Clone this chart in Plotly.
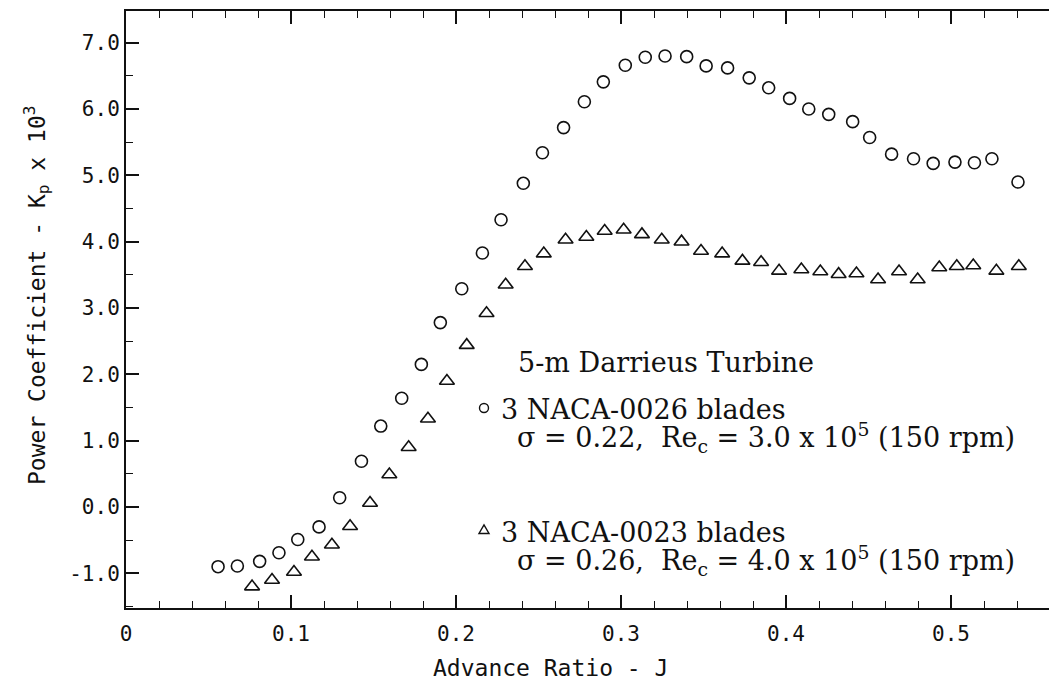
import plotly.graph_objects as go

# NACA-0026 blades (circles)
J_0026 = [0.0558, 0.0675, 0.0810, 0.0927, 0.1041, 0.1170, 0.1295, 0.1427, 0.1544, 0.1671,
          0.1790, 0.1905, 0.2035, 0.2160, 0.2273, 0.2408, 0.2524, 0.2652, 0.2778, 0.2893,
          0.3026, 0.3147, 0.3267, 0.3398, 0.3516, 0.3646, 0.3777, 0.3895, 0.4022, 0.4138,
          0.4259, 0.4404, 0.4507, 0.4640, 0.4773, 0.4892, 0.5024, 0.5142, 0.5248, 0.5406]
Kp_0026 = [-0.90, -0.89, -0.82, -0.69, -0.49, -0.30, 0.14, 0.69, 1.22, 1.64,
           2.15, 2.78, 3.29, 3.83, 4.33, 4.88, 5.34, 5.72, 6.11, 6.41,
           6.66, 6.78, 6.80, 6.79, 6.65, 6.62, 6.47, 6.32, 6.16, 6.00,
           5.92, 5.81, 5.57, 5.32, 5.25, 5.18, 5.20, 5.19, 5.25, 4.90]

# NACA-0023 blades (triangles)
J_0023 = [0.0764, 0.0885, 0.1018, 0.1127, 0.1248, 0.1358, 0.1479, 0.1596, 0.1713, 0.1830,
          0.1945, 0.2065, 0.2185, 0.2301, 0.2418, 0.2532, 0.2664, 0.2790, 0.2901, 0.3016,
          0.3127, 0.3247, 0.3367, 0.3485, 0.3613, 0.3736, 0.3849, 0.3958, 0.4093, 0.4208,
          0.4319, 0.4427, 0.4558, 0.4685, 0.4798, 0.4929, 0.5035, 0.5135, 0.5275, 0.5411]
Kp_0023 = [-1.20, -1.10, -0.98, -0.75, -0.57, -0.29, 0.06, 0.49, 0.90, 1.33,
           1.90, 2.44, 2.92, 3.35, 3.63, 3.82, 4.03, 4.07, 4.16, 4.18,
           4.11, 4.03, 4.00, 3.86, 3.82, 3.71, 3.69, 3.56, 3.58, 3.55,
           3.51, 3.52, 3.43, 3.55, 3.43, 3.61, 3.63, 3.64, 3.56, 3.63]

x_tickvals = [0, 0.1, 0.2, 0.3, 0.4, 0.5]
x_ticktext = ["0", "0.1", "0.2", "0.3", "0.4", "0.5"]
y_tickvals = [-1, 0, 1, 2, 3, 4, 5, 6, 7]
y_ticktext = ["-1.0", "0.0", "1.0", "2.0", "3.0", "4.0", "5.0", "6.0", "7.0"]

title_text = "5-m Darrieus Turbine"
series1_name = "3 NACA-0026 blades"
series1_info = "σ = 0.22,  Re<sub>c</sub> = 3.0 x 10<sup>5</sup> (150 rpm)"
series2_name = "3 NACA-0023 blades"
series2_info = "σ = 0.26,  Re<sub>c</sub> = 4.0 x 10<sup>5</sup> (150 rpm)"

MONO = "DejaVu Sans Mono"
SERIF = "DejaVu Serif"
BLACK = "#111111"

fig = go.Figure()
fig.add_trace(go.Scatter(
    x=J_0026, y=Kp_0026, mode="markers", name=series1_name, showlegend=False,
    marker=dict(symbol="circle-open", size=12, color=BLACK, line=dict(width=1.6, color=BLACK)),
))
fig.add_trace(go.Scatter(
    x=J_0023, y=Kp_0023, mode="markers", name=series2_name, showlegend=False,
    marker=dict(symbol="triangle-up-open", size=13, color=BLACK, line=dict(width=1.6, color=BLACK)),
))

L, R, T, B = 126, 0, 11, 78
W, H = 1049, 686
pw, ph = W - L - R, H - T - B

def px(xp):
    return (xp - L) / pw

def py(yp):
    return (T + ph - yp) / ph

TXT = 27
annotations = [
    dict(text="Advance Ratio - J", x=px(550), y=py(668), xref="paper", yref="paper",
         xanchor="center", yanchor="middle", showarrow=False,
         font=dict(family=MONO, size=23, color=BLACK)),
    dict(text="Power Coefficient - K<sub>p</sub> x 10<sup>3</sup>", x=px(36), y=py(296),
         xref="paper", yref="paper", xanchor="center", yanchor="middle", showarrow=False,
         textangle=-90, font=dict(family=MONO, size=23, color=BLACK)),
    dict(text=title_text, x=px(516), y=py(362), xref="paper", yref="paper",
         xanchor="left", yanchor="middle", showarrow=False,
         font=dict(family=SERIF, size=TXT, color=BLACK)),
    dict(text=series1_name, x=px(499), y=py(409), xref="paper", yref="paper",
         xanchor="left", yanchor="middle", showarrow=False,
         font=dict(family=SERIF, size=TXT, color=BLACK)),
    dict(text=series1_info, x=px(515), y=py(437), xref="paper", yref="paper",
         xanchor="left", yanchor="middle", showarrow=False,
         font=dict(family=SERIF, size=TXT, color=BLACK)),
    dict(text=series2_name, x=px(499), y=py(532), xref="paper", yref="paper",
         xanchor="left", yanchor="middle", showarrow=False,
         font=dict(family=SERIF, size=TXT, color=BLACK)),
    dict(text=series2_info, x=px(515), y=py(560), xref="paper", yref="paper",
         xanchor="left", yanchor="middle", showarrow=False,
         font=dict(family=SERIF, size=TXT, color=BLACK)),
]

# small legend key symbols (pixel-sized shapes next to the series labels)
shapes = [
    dict(type="circle", xref="paper", yref="paper", xsizemode="pixel", ysizemode="pixel",
         xanchor=px(484), yanchor=py(408), x0=-4.5, x1=4.5, y0=-4.5, y1=4.5,
         line=dict(color=BLACK, width=1.4)),
    dict(type="path", xref="paper", yref="paper", xsizemode="pixel", ysizemode="pixel",
         xanchor=px(484), yanchor=py(530), path="M -5,-3.5 L 5,-3.5 L 0,5 Z",
         line=dict(color=BLACK, width=1.4)),
]

fig.update_layout(
    width=W, height=H,
    margin=dict(l=L, r=R, t=T, b=B, pad=0),
    paper_bgcolor="white", plot_bgcolor="white",
    showlegend=False,
    xaxis=dict(
        range=[0, (W - L) / 1650.0], tickvals=x_tickvals, ticktext=x_ticktext,
        ticks="inside", ticklen=13, tickwidth=1.6, tickcolor=BLACK,
        showline=True, linewidth=2, linecolor=BLACK, mirror="ticks",
        showgrid=False, zeroline=False, ticklabelstandoff=6,
        tickfont=dict(family=MONO, size=21, color=BLACK),
        minor=dict(tick0=0, dtick=0.02, ticks="inside", ticklen=7, tickwidth=1.4,
                   tickcolor=BLACK, showgrid=False),
    ),
    yaxis=dict(
        range=[-1.523, 7.478], tickvals=y_tickvals, ticktext=y_ticktext,
        ticks="inside", ticklen=13, tickwidth=1.6, tickcolor=BLACK,
        showline=True, linewidth=2, linecolor=BLACK,
        showgrid=False, zeroline=False, ticklabelstandoff=0,
        tickfont=dict(family=MONO, size=21, color=BLACK),
        minor=dict(tick0=0, dtick=0.5, ticks="inside", ticklen=7, tickwidth=1.4,
                   tickcolor=BLACK, showgrid=False),
    ),
    yaxis2=dict(
        overlaying="y", side="right", matches="y", anchor="x",
        tickvals=y_tickvals, showticklabels=False,
        ticks="inside", ticklen=10, tickwidth=1.6, tickcolor=BLACK,
        showline=False, showgrid=False, zeroline=False,
        minor=dict(tick0=0, dtick=0.5, ticks="inside", ticklen=5, tickwidth=1.4,
                   tickcolor=BLACK, showgrid=False),
    ),
    annotations=annotations,
    shapes=shapes,
)

fig.write_html("out.html", config={"displayModeBar": False},
               post_script="document.body.style.margin='0px';document.body.style.overflow='hidden';")
